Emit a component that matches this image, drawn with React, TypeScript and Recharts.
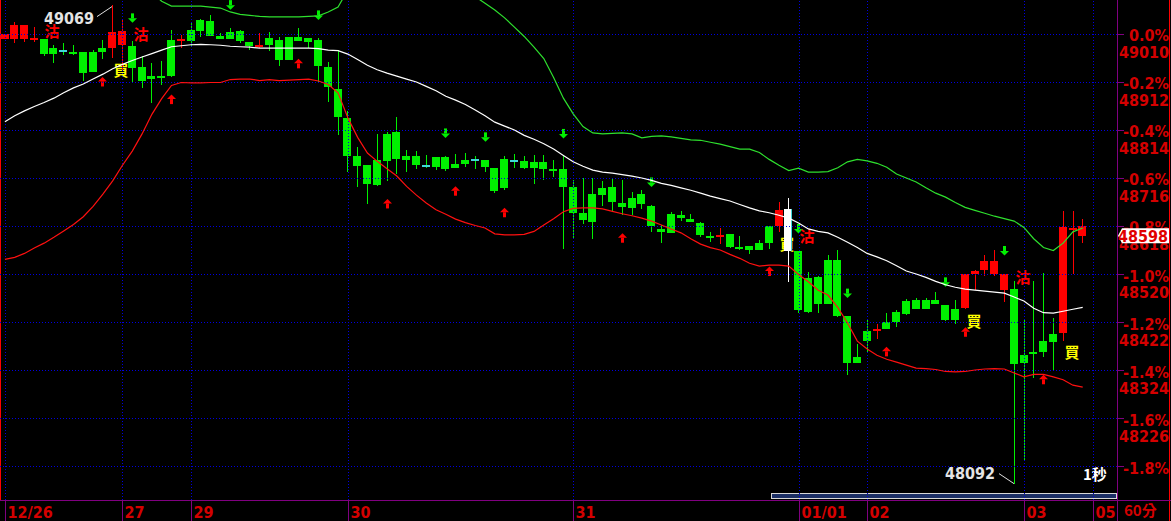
import React from "react";
import { ComposedChart, Bar, Line, XAxis, YAxis, ReferenceLine } from "recharts";

// ---------------- data (60-minute candles) ----------------
const opens = [
  49000, 48999, 49000, 48999, 48999, 48981, 48976, 48974, 48974, 48974,
  48982, 48981, 48988, 48985, 48943, 48924, 48924, 48998, 48996, 49018,
  49039, 49037, 49006, 49014, 49016, 48994, 48984, 49002, 48998, 49004,
  49004, 49002, 48998, 48943, 48898, 48839, 48761, 48743, 48753, 48806,
  48809, 48760, 48761, 48741, 48759, 48759, 48745, 48753, 48753, 48753,
  48736, 48755, 48751, 48751, 48749, 48749, 48734, 48734, 48697, 48644,
  48683, 48695, 48697, 48664, 48675, 48683, 48659, 48611, 48643, 48640,
  48632, 48624, 48597, 48597, 48602, 48575, 48577, 48583, 48617, 48617,
  48652, 48566, 48511, 48513, 48549, 48549, 48434, 48351, 48404, 48405,
  48421, 48442, 48465, 48467, 48467, 48467, 48457, 48448, 48450, 48520,
  48528, 48520, 48487, 48489, 48354, 48360, 48383, 48397, 48399, 48612,
  48598,
];
const highs = [
  49010, 49034, 49028, 49024, 48999, 48987, 48991, 48987, 48974, 48977,
  48998, 49069, 49041, 48996, 48965, 48951, 48955, 49018, 49008, 49033,
  49041, 49049, 49013, 49023, 49018, 48994, 49013, 49015, 49004, 49004,
  49022, 49002, 49002, 48953, 48977, 48853, 48779, 48743, 48805, 48809,
  48841, 48773, 48771, 48763, 48759, 48761, 48765, 48767, 48760, 48753,
  48736, 48760, 48765, 48761, 48763, 48763, 48753, 48760, 48712, 48717,
  48717, 48710, 48713, 48712, 48688, 48692, 48661, 48620, 48647, 48649,
  48643, 48627, 48606, 48613, 48602, 48598, 48577, 48589, 48617, 48666,
  48675, 48566, 48525, 48516, 48559, 48570, 48434, 48377, 48428, 48418,
  48440, 48447, 48468, 48472, 48471, 48484, 48457, 48467, 48520, 48528,
  48559, 48568, 48521, 48506, 48426, 48506, 48523, 48431, 48649, 48649,
  48632,
];
const lows = [
  49000, 48992, 48994, 48994, 48966, 48951, 48967, 48967, 48915, 48933,
  48959, 48961, 48935, 48911, 48900, 48869, 48906, 48923, 48981, 48985,
  49004, 49006, 49000, 48999, 48992, 48977, 48981, 48976, 48945, 48957,
  48996, 48981, 48913, 48872, 48804, 48729, 48698, 48663, 48700, 48710,
  48724, 48729, 48734, 48736, 48732, 48730, 48736, 48739, 48734, 48729,
  48685, 48692, 48737, 48734, 48704, 48712, 48719, 48572, 48593, 48622,
  48591, 48659, 48647, 48640, 48640, 48652, 48606, 48584, 48604, 48629,
  48627, 48596, 48586, 48581, 48574, 48570, 48561, 48569, 48572, 48606,
  48504, 48441, 48441, 48441, 48459, 48432, 48314, 48338, 48359, 48387,
  48408, 48412, 48436, 48449, 48449, 48459, 48425, 48418, 48448, 48487,
  48516, 48516, 48463, 48092, 48141, 48307, 48351, 48325, 48383, 48521,
  48584,
];
const closes = [
  49010, 49028, 49028, 49001, 48969, 48969, 48976, 48969, 48931, 48933,
  48974, 49015, 49016, 48941, 48915, 48918, 48922, 48924, 49000, 48996,
  49017, 49006, 49000, 48999, 48996, 48985, 48987, 48987, 48957, 48957,
  48996, 48994, 48945, 48902, 48841, 48761, 48741, 48704, 48702, 48751,
  48755, 48753, 48743, 48741, 48739, 48734, 48737, 48745, 48753, 48738,
  48689, 48695, 48751, 48736, 48736, 48734, 48733, 48698, 48645, 48630,
  48627, 48681, 48666, 48656, 48654, 48663, 48617, 48606, 48604, 48634,
  48627, 48600, 48596, 48599, 48576, 48574, 48570, 48570, 48583, 48651,
  48567, 48447, 48443, 48459, 48459, 48434, 48338, 48338, 48383, 48407,
  48408, 48421, 48438, 48449, 48449, 48459, 48426, 48426, 48520, 48527,
  48547, 48547, 48521, 48337, 48338, 48358, 48360, 48382, 48615, 48614,
  48618,
];
const upperBand = [
  49112, 49130, 49143, 49151, 49157, 49163, 49172, 49178, 49179, 49177,
  49173, 49168, 49154, 49141, 49120, 49094, 49077, 49067, 49067, 49067,
  49067, 49065, 49063, 49055, 49050, 49048, 49046, 49045, 49045, 49045,
  49045, 49046, 49047, 49055, 49065, 49100, 49117, 49124, 49123, 49125,
  49128, 49137, 49143, 49141, 49137, 49122, 49118, 49107, 49086, 49073,
  49059, 49043, 49024, 49005, 48983, 48960, 48921, 48879, 48847, 48821,
  48808, 48806, 48807, 48808, 48806, 48798, 48801, 48802, 48800, 48797,
  48794, 48793, 48789, 48785, 48780, 48775, 48775, 48768, 48754, 48742,
  48731, 48736, 48728, 48728, 48729, 48737, 48749, 48754, 48751, 48746,
  48738, 48724, 48716, 48708, 48696, 48685, 48677, 48666, 48656, 48650,
  48644, 48638, 48633, 48628, 48615, 48592, 48574, 48568, 48583, 48606,
  48614,
];
const midBand = [
  48831, 48843, 48853, 48862, 48870, 48879, 48890, 48900, 48908, 48918,
  48928, 48939, 48948, 48956, 48963, 48970, 48977, 48984, 48986, 48988,
  48989, 48988, 48987, 48985, 48984, 48983, 48981, 48981, 48981, 48981,
  48981, 48981, 48980, 48977, 48976, 48969, 48958, 48946, 48937, 48930,
  48924, 48918, 48912, 48903, 48894, 48883, 48875, 48866, 48855, 48843,
  48830, 48822, 48814, 48803, 48795, 48786, 48775, 48762, 48749, 48740,
  48732, 48728, 48726, 48723, 48720, 48716, 48711, 48705, 48701, 48696,
  48691, 48685, 48679, 48674, 48669, 48662, 48655, 48649, 48645, 48640,
  48634, 48624, 48612, 48607, 48604, 48595, 48585, 48574, 48562, 48555,
  48547, 48537, 48526, 48520, 48513, 48505, 48498, 48493, 48489, 48487,
  48485, 48483, 48481, 48473, 48465, 48450, 48441, 48440, 48444, 48448,
  48452,
];
const lowerBand = [
  48550, 48554, 48562, 48573, 48583, 48595, 48608, 48621, 48637, 48658,
  48683, 48710, 48742, 48771, 48806, 48846, 48878, 48905, 48911, 48910,
  48910, 48911, 48911, 48917, 48918, 48918, 48915, 48917, 48915, 48916,
  48917, 48918, 48914, 48907, 48890, 48839, 48799, 48767, 48750, 48735,
  48720, 48699, 48681, 48665, 48651, 48642, 48632, 48625, 48619, 48614,
  48602, 48600, 48600, 48601, 48607, 48620, 48633, 48647, 48654, 48655,
  48655, 48653, 48648, 48643, 48639, 48634, 48628, 48620, 48612, 48604,
  48592, 48581, 48574, 48569, 48560, 48552, 48542, 48536, 48538, 48538,
  48536, 48519, 48504, 48487, 48477, 48452, 48420, 48383, 48367, 48354,
  48346, 48340, 48334, 48328, 48327, 48325, 48321, 48320, 48321, 48324,
  48326, 48327, 48326, 48318, 48310, 48315, 48315, 48310, 48304, 48293,
  48289,
];

const TOTAL_SLOTS = 114;
const dateTickIdx = [0, 12, 19, 35, 58, 81, 88, 104, 111];
const dateTickLabels = ["12/26", "27", "29", "30", "31", "01/01", "02", "03", "05"];
const yTicks = [49010, 48912, 48814, 48716, 48618, 48520, 48422, 48324, 48226, 48128];
const pctLabels = ["0.0%", "-0.2%", "-0.4%", "-0.6%", "-0.8%", "-1.0%", "-1.2%", "-1.4%", "-1.6%", "-1.8%"];
const priceLabels = ["49010", "48912", "48814", "48716", "48618", "48520", "48422", "48324", "48226", ""];
const upArrowIdx = [10, 17, 30, 39, 46, 51, 63, 78, 90, 98, 106];
const downArrowIdx = [13, 23, 32, 45, 49, 57, 66, 81, 86, 96, 102];
const buyMarks = [
  { i: 12, p: 48937 },
  { i: 80, p: 48583 },
  { i: 99, p: 48426 },
  { i: 109, p: 48361 },
];
const sellMarks = [
  { i: 5, p: 49018 },
  { i: 14, p: 49010 },
  { i: 82, p: 48598 },
  { i: 104, p: 48514 },
];
const extremeMarks = [
  { i: 11, p: 49069, text: "49069", side: "high" },
  { i: 103, p: 48092, text: "48092", side: "low" },
];
const SELECTED_IDX = 80;
const LAST_PRICE = 48598;
const Y_DOMAIN: [number, number] = [48058.6, 49079.4];

// ---------------- styles ----------------
const RED = "#ff0000";
const GREEN = "#00f000";
const CYAN = "#40d8d8";
const PURPLE = "#800080";
const GRID = "#0000e0";
const LABEL_RED = "#d40000";
const NUM_FONT = "'DejaVu Sans Condensed', 'DejaVu Sans', sans-serif";
const CJK_FONT = "'Noto Sans CJK TC', 'Noto Sans CJK SC', sans-serif";

type Row = {
  idx: number;
  o?: number; h?: number; l?: number; c?: number;
  up?: number; mid?: number; lo?: number;
};

const rows: Row[] = Array.from({ length: TOTAL_SLOTS }, (_, i) =>
  i < opens.length
    ? { idx: i, o: opens[i], h: highs[i], l: lows[i], c: closes[i], up: upperBand[i], mid: midBand[i], lo: lowerBand[i] }
    : { idx: i }
);

function CandleShape(props: any) {
  const { x, y, width, height, payload } = props;
  if (!payload || payload.h == null || !isFinite(y) || !isFinite(height)) return <g />;
  const top = Math.min(y, y + height);
  const bot = Math.max(y, y + height);
  const span = payload.h - payload.l;
  const k = span > 0 ? (bot - top) / span : 0;
  const py = (p: number) => top + (payload.h - p) * k;
  const cx = Math.floor(x + width / 2);
  const i = payload.idx;
  const diff = payload.c - payload.o;
  const sel = i === SELECTED_IDX;
  let bodyColor = diff > 0 ? RED : diff < 0 ? GREEN : CYAN;
  let wickColor = diff > 0 ? RED : GREEN;
  if (sel) {
    bodyColor = "#ffffff";
    wickColor = "#ffffff";
  }
  let bTop = Math.round(py(Math.max(payload.o, payload.c)));
  let bBot = Math.round(py(Math.min(payload.o, payload.c)));
  if (bBot - bTop < 2) {
    const m = (bTop + bBot) / 2;
    bTop = Math.round(m - 1);
    bBot = bTop + 2;
  }
  const wTop = Math.round(py(payload.h));
  const wBot = Math.round(py(payload.l));

  const buy = buyMarks.find((m) => m.i === i);
  const sell = sellMarks.find((m) => m.i === i);
  const ext = extremeMarks.find((m) => m.i === i);
  const hasUp = upArrowIdx.includes(i);
  const hasDown = downArrowIdx.includes(i);
  const ya = py(payload.l) + 23;
  const yd = py(payload.h) - 23;

  return (
    <g>
      {buy && (
        <text x={cx - 1} y={py(buy.p)} textAnchor="middle" dominantBaseline="central" fill="#ffff00"
          fontSize={15} fontWeight={700} fontFamily={CJK_FONT}>買</text>
      )}
      {sell && (
        <text x={cx - 1} y={py(sell.p)} textAnchor="middle" dominantBaseline="central" fill={RED}
          fontSize={15} fontWeight={700} fontFamily={CJK_FONT}>沽</text>
      )}
      {ext && ext.side === "high" && (
        <g>
          <line x1={cx - 15} y1={py(ext.p) + 11.5} x2={cx} y2={py(ext.p) + 1.5} stroke="#e0e0e0" strokeWidth={1} />
          <text x={cx - 18} y={py(ext.p) + 19} textAnchor="end" fill="#e4e4e4" fontSize={16} fontWeight={700}
            fontFamily={NUM_FONT}>{ext.text}</text>
        </g>
      )}
      {ext && ext.side === "low" && (
        <g>
          <line x1={cx - 15} y1={py(ext.p) - 10} x2={cx} y2={py(ext.p)} stroke="#e0e0e0" strokeWidth={1} />
          <text x={cx - 19} y={py(ext.p) - 5} textAnchor="end" fill="#e4e4e4" fontSize={16} fontWeight={700}
            fontFamily={NUM_FONT}>{ext.text}</text>
        </g>
      )}
      <rect x={cx} y={wTop} width={1} height={Math.max(1, wBot - wTop)} fill={wickColor} shapeRendering="crispEdges" />
      <rect x={cx - 4} y={bTop} width={8} height={bBot - bTop} fill={bodyColor} shapeRendering="crispEdges" />
      {sel && <rect x={cx + 3} y={bTop} width={1} height={bBot - bTop} fill={CYAN} shapeRendering="crispEdges" />}
      {hasUp && (
        <g fill={RED}>
          <polygon points={`${cx + 0.5},${ya - 5} ${cx + 5},${ya - 0.5} ${cx - 4},${ya - 0.5}`} />
          <rect x={cx - 1} y={ya - 0.5} width={3} height={5} />
        </g>
      )}
      {hasDown && (
        <g fill={GREEN}>
          <rect x={cx - 1} y={yd - 4.5} width={3} height={5} />
          <polygon points={`${cx - 4},${yd + 0.5} ${cx + 5},${yd + 0.5} ${cx + 0.5},${yd + 5}`} />
        </g>
      )}
    </g>
  );
}

function YTick(props: any) {
  const { x, y, payload } = props;
  const v = payload ? payload.value : undefined;
  if (v === LAST_PRICE) {
    return (
      <g>
        <polygon
          points={`${x + 1},${y} ${x + 5},${y - 7.5} ${x + 52},${y - 7.5} ${x + 52},${y + 7.5} ${x + 5},${y + 7.5}`}
          fill="#ffffff"
        />
        <text x={x + 51} y={y + 6} textAnchor="end" fill="#e00000" fontSize={16} fontWeight={700}
          fontFamily={NUM_FONT}>{String(LAST_PRICE)}</text>
      </g>
    );
  }
  const i = yTicks.indexOf(v);
  if (i < 0) return <g />;
  const yy = Math.round(y) + 0.5;
  return (
    <g>
      <line x1={x} x2={x + 7} y1={yy} y2={yy} stroke={PURPLE} strokeWidth={1} />
      <text x={x + 52} y={y + 7.5} textAnchor="end" fill={LABEL_RED} fontSize={16} fontWeight={700}
        fontFamily={NUM_FONT}>{pctLabels[i]}</text>
      {priceLabels[i] && (
        <text x={x + 52} y={y + 24} textAnchor="end" fill={LABEL_RED} fontSize={16} fontWeight={700}
          fontFamily={NUM_FONT}>{priceLabels[i]}</text>
      )}
    </g>
  );
}

function XTick(props: any) {
  const { x, y, payload } = props;
  const i = dateTickIdx.indexOf(payload ? payload.value : -1);
  if (i < 0) return <g />;
  const xx = Math.round(x) + 0.5;
  return (
    <g>
      <line x1={xx} y1={y} x2={xx} y2={y + 21} stroke={PURPLE} strokeWidth={1} />
      <text x={xx + 2} y={y + 18} textAnchor="start" fill={LABEL_RED} fontSize={16} fontWeight={700}
        fontFamily={NUM_FONT}>{dateTickLabels[i]}</text>
    </g>
  );
}

function DottedShape(p: any) {
  const { x1, y1, x2, y2 } = p;
  if (![x1, y1, x2, y2].every((v) => typeof v === "number" && isFinite(v))) return <g />;
  const vertical = Math.abs(x1 - x2) < 0.5;
  const X1 = vertical ? Math.round(x1) + 0.5 : x1;
  const X2 = vertical ? Math.round(x2) + 0.5 : x2;
  const Y1 = vertical ? y1 : Math.round(y1) + 0.5;
  const Y2 = vertical ? y2 : Math.round(y2) + 0.5;
  return (
    <line x1={X1} y1={Y1} x2={X2} y2={Y2} stroke={GRID} strokeWidth={1} strokeDasharray="1 2"
      shapeRendering="crispEdges" />
  );
}

export default function App() {
  const W = 1171;
  const H = 521;
  return (
    <div style={{ position: "absolute", left: 0, top: 0, width: W, height: H, background: "#000", overflow: "hidden" }}>
      <svg width={W} height={H} style={{ position: "absolute", left: 0, top: 0 }}>
        <line x1={0.5} y1={0} x2={0.5} y2={500} stroke={RED} strokeWidth={1} />
        <line x1={1169.5} y1={0} x2={1169.5} y2={H} stroke={RED} strokeWidth={1} />
        <line x1={1117.5} y1={0} x2={1117.5} y2={H} stroke={PURPLE} strokeWidth={1} />
        <line x1={0} y1={500.5} x2={W} y2={500.5} stroke={PURPLE} strokeWidth={1} />
        <rect x={771.5} y={493.5} width={345} height={5} fill="#1c2f66" stroke="#d8d8d8" strokeWidth={1} />
        <text x={1083} y={480} fill="#ffffff" fontSize={15} fontWeight={700} fontFamily={CJK_FONT}>1秒</text>
        <text x={1124} y={516} fill={LABEL_RED} fontSize={15} fontWeight={700} fontFamily={CJK_FONT}>60分</text>
      </svg>
      <div style={{ position: "absolute", left: 0, top: 0 }}>
        <ComposedChart width={W} height={H} data={rows} margin={{ top: 0, right: 0, bottom: 0, left: 0 }}>
          <XAxis
            dataKey="idx"
            type="category"
            ticks={dateTickIdx}
            interval={0}
            tick={<XTick />}
            tickLine={false}
            axisLine={false}
            height={21}
            tickSize={0}
            tickMargin={0}
            allowDuplicatedCategory={false}
          />
          <YAxis
            orientation="right"
            type="number"
            domain={Y_DOMAIN}
            allowDataOverflow
            ticks={[...yTicks, LAST_PRICE]}
            interval={0}
            tick={<YTick />}
            tickLine={false}
            axisLine={false}
            width={54}
            tickSize={0}
            tickMargin={0}
          />
          {yTicks.map((t) => (
            <ReferenceLine key={"h" + t} y={t} shape={DottedShape} ifOverflow="extendDomain" />
          ))}
          {dateTickIdx.map((t) => (
            <ReferenceLine key={"v" + t} x={t} shape={DottedShape} />
          ))}
          <Bar
            dataKey={(d: Row) => (d.h == null ? null : [d.l as number, d.h as number])}
            barSize={8}
            shape={CandleShape}
            isAnimationActive={false}
          />
          <Line type="linear" dataKey="up" stroke="#2ee02e" strokeWidth={1.2} dot={false} activeDot={false}
            isAnimationActive={false} />
          <Line type="linear" dataKey="mid" stroke="#ffffff" strokeWidth={1.2} dot={false} activeDot={false}
            isAnimationActive={false} />
          <Line type="linear" dataKey="lo" stroke="#ff1010" strokeWidth={1.2} dot={false} activeDot={false}
            isAnimationActive={false} />
        </ComposedChart>
      </div>
    </div>
  );
}
